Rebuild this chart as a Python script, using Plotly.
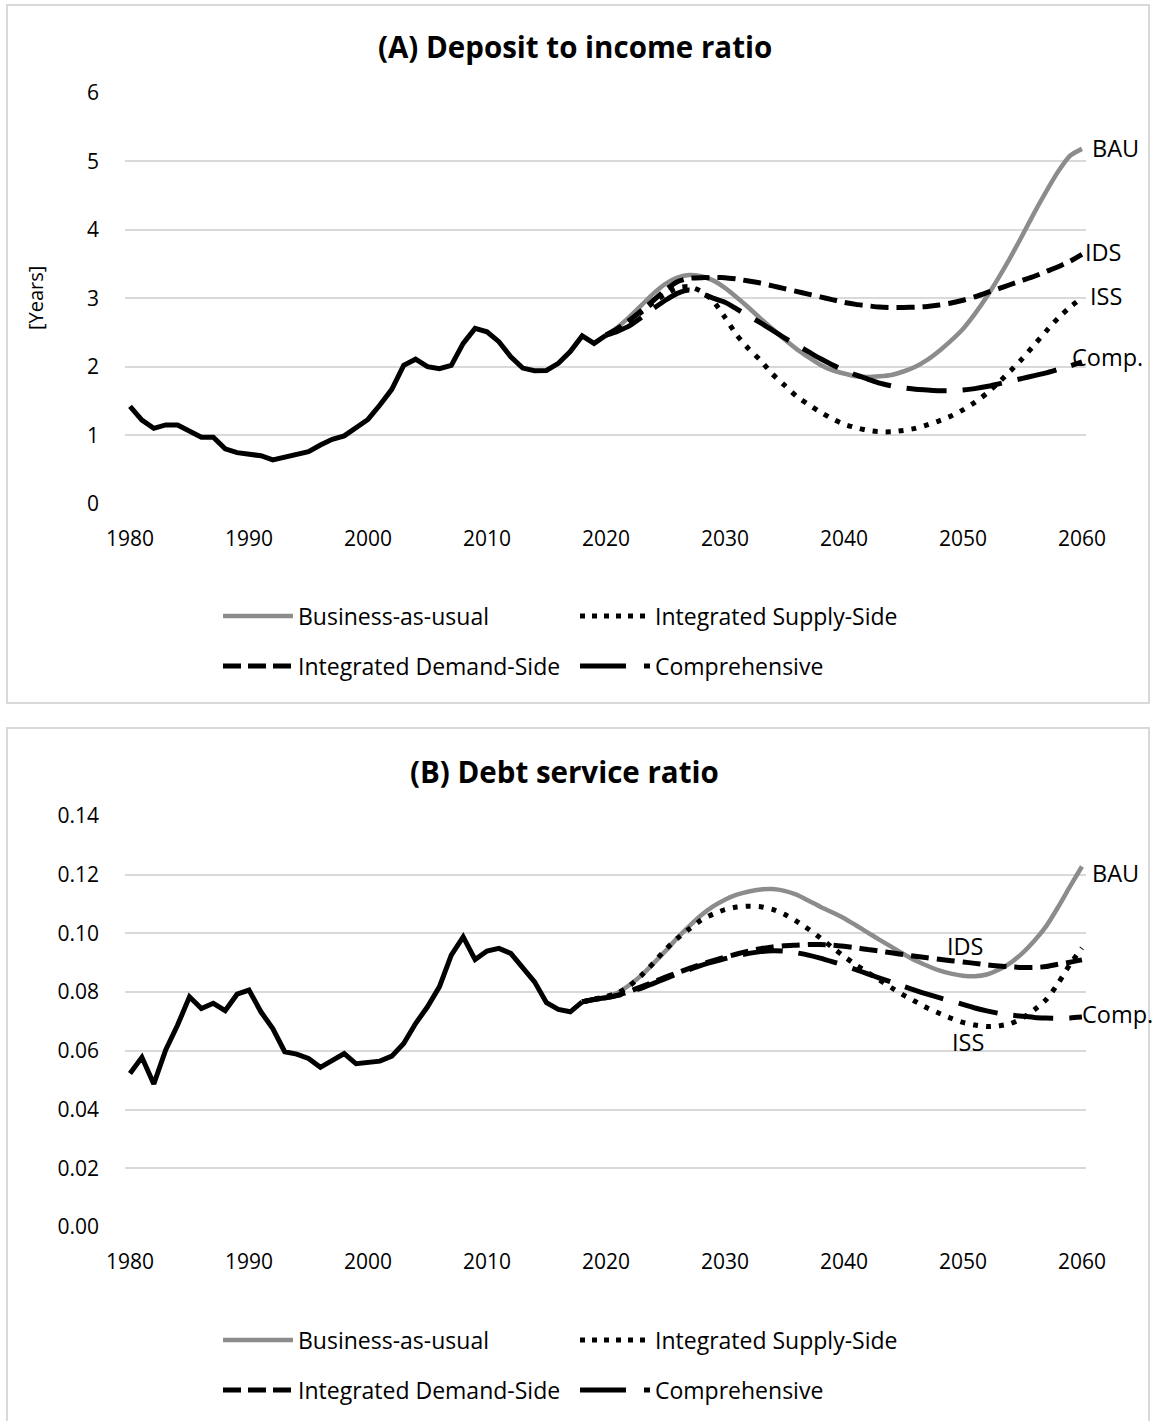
import plotly.graph_objects as go

W, H = 1156, 1421

# ---------------- data ----------------
years_hist_a = list(range(1980, 2021))
deposit_hist = [1.42, 1.22, 1.10, 1.15, 1.15, 1.06, 0.97, 0.97, 0.80, 0.745,
                0.725, 0.70, 0.64, 0.68, 0.735, 0.76, 0.857, 0.94, 0.99, 1.12,
                1.23, 1.44, 1.67, 2.02, 2.11, 2.00, 1.97, 2.02, 2.34, 2.56,
                2.51, 2.365, 2.145, 1.98, 1.94, 1.945, 2.05, 2.22, 2.45, 2.34,
                2.46]

years_proj_a = list(range(2020, 2061))
deposit_bau = [2.46, 2.58, 2.73, 2.90, 3.07, 3.21, 3.30, 3.34, 3.32, 3.26,
               3.15, 3.01, 2.86, 2.70, 2.55, 2.40, 2.26, 2.14, 2.03, 1.95,
               1.90, 1.86, 1.85, 1.86, 1.88, 1.93, 2.00, 2.10, 2.23, 2.38,
               2.55, 2.77, 3.02, 3.30, 3.60, 3.92, 4.25, 4.56, 4.85, 5.08, 5.18]
deposit_iss = [2.46, 2.55, 2.67, 2.80, 2.94, 3.06, 3.15, 3.17, 3.10, 2.96,
               2.72, 2.46, 2.26, 2.09, 1.89, 1.73, 1.57, 1.45, 1.34, 1.24,
               1.16, 1.11, 1.07, 1.05, 1.05, 1.07, 1.10, 1.15, 1.21, 1.28,
               1.37, 1.48, 1.61, 1.77, 1.94, 2.12, 2.32, 2.52, 2.71, 2.87, 3.00]
deposit_ids = [2.46, 2.56, 2.68, 2.82, 2.97, 3.12, 3.24, 3.29, 3.30, 3.30,
               3.30, 3.28, 3.25, 3.22, 3.18, 3.14, 3.10, 3.06, 3.02, 2.98,
               2.94, 2.91, 2.89, 2.87, 2.865, 2.865, 2.87, 2.88, 2.90, 2.93,
               2.97, 3.02, 3.08, 3.14, 3.20, 3.26, 3.32, 3.39, 3.46, 3.54, 3.64]
deposit_comp = [2.46, 2.52, 2.60, 2.72, 2.85, 2.97, 3.07, 3.12, 3.07, 3.00,
                2.94, 2.84, 2.74, 2.64, 2.53, 2.42, 2.32, 2.22, 2.12, 2.03,
                1.95, 1.88, 1.82, 1.76, 1.72, 1.69, 1.67, 1.66, 1.65, 1.65,
                1.66, 1.68, 1.71, 1.75, 1.79, 1.83, 1.87, 1.91, 1.96, 2.01, 2.07]

years_hist_b = list(range(1980, 2019))
dsr_hist = [0.0523, 0.0578, 0.0487, 0.0603, 0.0688, 0.0784, 0.0744, 0.0762, 0.0737, 0.0793,
            0.0807, 0.0733, 0.0676, 0.0597, 0.0589, 0.0574, 0.0544, 0.0566, 0.0591, 0.0556,
            0.0559, 0.0565, 0.0582, 0.0625, 0.0693, 0.0750, 0.0818, 0.0926, 0.0988, 0.0911,
            0.0940, 0.0949, 0.0932, 0.0886, 0.0835, 0.0764, 0.0741, 0.0733, 0.0767]

years_proj_b = list(range(2018, 2061))
dsr_bau = [0.0767, 0.0775,
           0.0784, 0.0798, 0.0825, 0.0858, 0.0898, 0.0940, 0.0985, 0.1025, 0.1062, 0.1092,
           0.1115, 0.1132, 0.1143, 0.1150, 0.1151, 0.1145, 0.1132, 0.1112, 0.1091, 0.1072,
           0.1052, 0.1028, 0.1003, 0.0978, 0.0954, 0.0930, 0.0908, 0.0890, 0.0874, 0.0863,
           0.0856, 0.0854, 0.0860, 0.0876, 0.0900, 0.0933, 0.0975, 0.1025, 0.1090, 0.1160, 0.1228]
dsr_iss = [0.0767, 0.0776,
           0.0785, 0.0798, 0.0822, 0.0858, 0.0900, 0.0945, 0.0983, 0.1015, 0.1045, 0.1066,
           0.1081, 0.1090, 0.1093, 0.1091, 0.1082, 0.1065, 0.1042, 0.1015, 0.0985, 0.0953,
           0.0922, 0.0893, 0.0867, 0.0841, 0.0815, 0.0790, 0.0768, 0.0746, 0.0728, 0.0711,
           0.0697, 0.0688, 0.0683, 0.0685, 0.0693, 0.0712, 0.0740, 0.0775, 0.0830, 0.0895, 0.0950]
dsr_ids = [0.0767, 0.0775,
           0.0781, 0.0790, 0.0803, 0.0819, 0.0835, 0.0851, 0.0866, 0.0881, 0.0895, 0.0907,
           0.0919, 0.0930, 0.0940, 0.0948, 0.0954, 0.0958, 0.0960, 0.0962, 0.0962, 0.0960,
           0.0956, 0.0951, 0.0945, 0.0940, 0.0934, 0.0928, 0.0922, 0.0917, 0.0912, 0.0907,
           0.0903, 0.0898, 0.0893, 0.0889, 0.0886, 0.0884, 0.0884, 0.0887, 0.0895, 0.0902, 0.0910]
dsr_comp = [0.0767, 0.0775,
            0.0781, 0.0789, 0.0800, 0.0814, 0.0830, 0.0846, 0.0862, 0.0877, 0.0891, 0.0903,
            0.0914, 0.0924, 0.0932, 0.0938, 0.0941, 0.0940, 0.0934, 0.0926, 0.0916, 0.0904,
            0.0891, 0.0877, 0.0862, 0.0848, 0.0834, 0.0820, 0.0806, 0.0793, 0.0781, 0.0770,
            0.0758, 0.0746, 0.0736, 0.0728, 0.0722, 0.0718, 0.0714, 0.0712, 0.0711, 0.0712, 0.0715]

scenario_names = ["Business-as-usual", "Integrated Supply-Side",
                  "Integrated Demand-Side", "Comprehensive"]
year_ticks = list(range(1980, 2061, 10))

# ---------------- styling ----------------
FONT = "Open Sans"
GRID = "#d9d9d9"
GRAY = "#8c8c8c"
BLACK = "#000000"

line_styles = {
    "Business-as-usual": dict(color=GRAY, width=4.5, dash="solid"),
    "Integrated Supply-Side": dict(color=BLACK, width=5, dash="5px,8px"),
    "Integrated Demand-Side": dict(color=BLACK, width=5, dash="18px,8px"),
    "Comprehensive": dict(color=BLACK, width=5, dash="40px,16px"),
}
legend_dash = {
    "Business-as-usual": "solid",
    "Integrated Supply-Side": "5px,7px",
    "Integrated Demand-Side": "18px,7px",
    "Comprehensive": "46px,18px,6px,40px",
}


def px_x(px):
    return px / W


def px_y(py):
    return 1 - py / H


fig = go.Figure()

panels = [
    dict(x="x", y="y", hist_x=years_hist_a, hist_y=deposit_hist, proj_x=years_proj_a,
         series=[deposit_bau, deposit_iss, deposit_ids, deposit_comp],
         legends=("legend", "legend2")),
    dict(x="x2", y="y2", hist_x=years_hist_b, hist_y=dsr_hist, proj_x=years_proj_b,
         series=[dsr_bau, dsr_iss, dsr_ids, dsr_comp],
         legends=("legend3", "legend4")),
]

draw_order = [0, 2, 1, 3]
for p in panels:
    for i in draw_order:
        name = scenario_names[i]
        st = line_styles[name]
        fig.add_trace(go.Scatter(
            x=p["proj_x"], y=p["series"][i], mode="lines", name=name,
            xaxis=p["x"], yaxis=p["y"], showlegend=False, hoverinfo="skip",
            line=dict(color=st["color"], width=st["width"], dash=st["dash"],
                      shape="spline", smoothing=0.6)))
    fig.add_trace(go.Scatter(
        x=p["hist_x"], y=p["hist_y"], mode="lines", name="Historical",
        xaxis=p["x"], yaxis=p["y"], showlegend=False, hoverinfo="skip",
        line=dict(color=BLACK, width=5)))
    # legend entries: two rows of two
    for i, name in enumerate(scenario_names):
        st = line_styles[name]
        fig.add_trace(go.Scatter(
            x=[None], y=[None], mode="lines", name=name,
            xaxis=p["x"], yaxis=p["y"], showlegend=True,
            legend=p["legends"][0] if i < 2 else p["legends"][1],
            line=dict(color=st["color"], width=st["width"], dash=legend_dash[name])))

x_dom = [px_x(125), px_x(1086)]
x_rng = [1979.58, 2060.34]
common_x = dict(range=x_rng, tickvals=year_ticks, showgrid=False, zeroline=False,
                showline=False, ticks="", automargin=False,
                tickfont=dict(family=FONT, size=21, color=BLACK),
                ticklabelstandoff=20)
common_y = dict(showgrid=True, gridcolor=GRID, gridwidth=2, zeroline=False,
                showline=False, ticks="", automargin=False,
                tickfont=dict(family=FONT, size=21, color=BLACK),
                ticklabelstandoff=25)

legend_common = dict(orientation="h", xanchor="left", yanchor="middle",
                     bgcolor="rgba(0,0,0,0)", itemwidth=70, entrywidth=272,
                     font=dict(family=FONT, size=23, color=BLACK),
                     itemclick=False, itemdoubleclick=False)

fig.update_layout(
    width=W, height=H, margin=dict(l=0, r=0, t=0, b=0, autoexpand=False),
    paper_bgcolor="white", plot_bgcolor="white",
    xaxis=dict(domain=x_dom, anchor="y", **common_x),
    yaxis=dict(domain=[px_y(503.7), px_y(92.7)], anchor="x", range=[0, 6],
               tickvals=[0, 1, 2, 3, 4, 5, 6], **common_y),
    xaxis2=dict(domain=x_dom, anchor="y2", **common_x),
    yaxis2=dict(domain=[px_y(1227), px_y(816)], anchor="x2", range=[0, 0.14],
                tickvals=[0, 0.02, 0.04, 0.06, 0.08, 0.10, 0.12, 0.14],
                tickformat=".2f", **common_y),
    legend=dict(x=px_x(218), y=px_y(616), **legend_common),
    legend2=dict(x=px_x(218), y=px_y(666), **legend_common),
    legend3=dict(x=px_x(218), y=px_y(1340), **legend_common),
    legend4=dict(x=px_x(218), y=px_y(1390), **legend_common),
    showlegend=True,
)

# panel frames
for y0, y1 in [(5, 703), (728, 1440)]:
    fig.add_shape(type="rect", xref="paper", yref="paper",
                  x0=px_x(7), x1=px_x(1149), y0=px_y(y1), y1=px_y(y0),
                  line=dict(color=GRID, width=2), fillcolor="rgba(0,0,0,0)", layer="below")

# panel titles
for text, cx, py in [("(A) Deposit to income ratio", 575, 47), ("(B) Debt service ratio", 564, 771)]:
    fig.add_annotation(text=f"<b>{text}</b>", xref="paper", yref="paper",
                       x=px_x(cx), y=px_y(py), xanchor="center", yanchor="middle",
                       showarrow=False, font=dict(family=FONT, size=29.5, color=BLACK))

# y-axis title for panel A
fig.add_annotation(text="[Years]", xref="paper", yref="paper", x=px_x(36), y=px_y(298),
                   textangle=-90, xanchor="center", yanchor="middle", showarrow=False,
                   font=dict(family=FONT, size=20, color=BLACK))

# scenario labels at the line ends (x in years, shifted right in pixels)
label_font = dict(family=FONT, size=23.5, color=BLACK)
labels_a = [("BAU", 2060, 5.19, 8), ("IDS", 2060, 3.67, 1), ("ISS", 2060, 3.03, 6),
            ("Comp.", 2059.2, 2.14, -2)]
labels_b = [("BAU", 2060, 0.1205, 8), ("IDS", 2048.5, 0.0957, 0), ("ISS", 2048.9, 0.0630, 0),
            ("Comp.", 2060, 0.0725, -2)]
for axes, labels in [(("x", "y"), labels_a), (("x2", "y2"), labels_b)]:
    for text, lx, ly, shift in labels:
        fig.add_annotation(text=text, xref=axes[0], yref=axes[1], x=lx, y=ly,
                           xshift=shift, xanchor="left", yanchor="middle",
                           showarrow=False, font=label_font)

fig.write_html("out.html")
